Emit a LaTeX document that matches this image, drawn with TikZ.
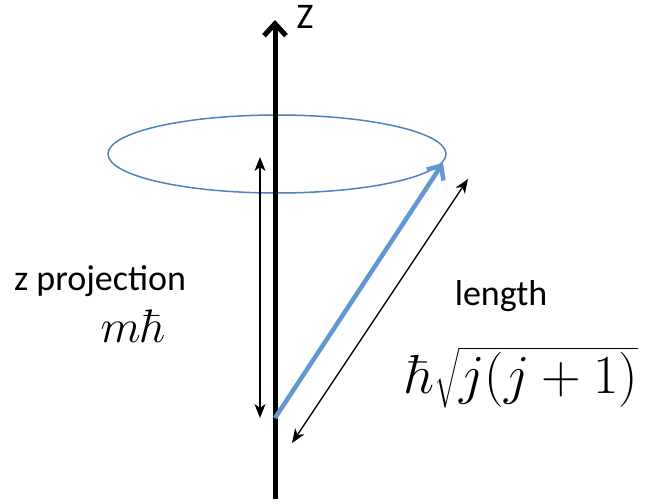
\documentclass[tikz,border=0pt]{standalone}
\usepackage{fix-cm}
\usepackage{amsmath}
\usepackage[no-math]{fontspec}
\setmainfont{Carlito}
\usetikzlibrary{arrows.meta}

\definecolor{ringblue}{RGB}{79,129,189}
\definecolor{vecblue}{RGB}{98,151,210}

\tikzset{
  axisline/.style={line width=5pt,-{Straight Barb[length=12pt,width=22pt]}},
  spinvec/.style={vecblue,line width=4.5pt,-{Straight Barb[length=11pt,width=20pt]}},
  dimline/.style={line width=1.3pt,{Stealth[length=14pt,width=11pt,inset=4pt]}-{Stealth[length=14pt,width=11pt,inset=4pt]}},
  lbl/.style={anchor=base,font=\fontsize{36}{40}\selectfont,inner sep=0pt},
  mathlbl/.style={anchor=base,inner sep=0pt}
}

\begin{document}
\begin{tikzpicture}[x=1pt,y=-1pt]
        % ---------------------------------------------------------
        % Rahmen: 647 x 503
        % ---------------------------------------------------------
        \useasboundingbox (0,0) rectangle (647,503);

        % Punkte
        \coordinate (axbot) at (275,499);
        \coordinate (axtop) at (275,20);
        \coordinate (vecbeg) at (275,418);
        \coordinate (vecend) at (443,163);
        \coordinate (zpa) at (260,157);
        \coordinate (zpb) at (260,418);
        \coordinate (lena) at (468,179);
        \coordinate (lenb) at (292,443);

        % Praezessionskegel (Ring)
        \draw[ringblue,line width=1.5pt] (277,154) ellipse (169 and 39);

        % z-Achse
        \draw[axisline] (axbot) -- (axtop);
        \node[lbl,anchor=center] (zlab) at (305,17) {Z};

        % Drehimpulsvektor
        \draw[spinvec] (vecbeg) -- (vecend);

        % Massangaben
        \draw[dimline] (zpa) -- (zpb);
        \draw[dimline] (lena) -- (lenb);

        % Beschriftungen
        \node[lbl] (zproj) at (100,290) {z projection};
        \node[mathlbl] (mhbar) at (133,342) {\fontsize{47}{50}\selectfont$m\hbar$};
        \node[lbl] (len) at (501,305) {length};
        \node[mathlbl] (lenval) at (522,393) {\fontsize{55}{60}\selectfont$\hbar\sqrt{j(j+1)}$};

    \end{tikzpicture}
\end{document}
